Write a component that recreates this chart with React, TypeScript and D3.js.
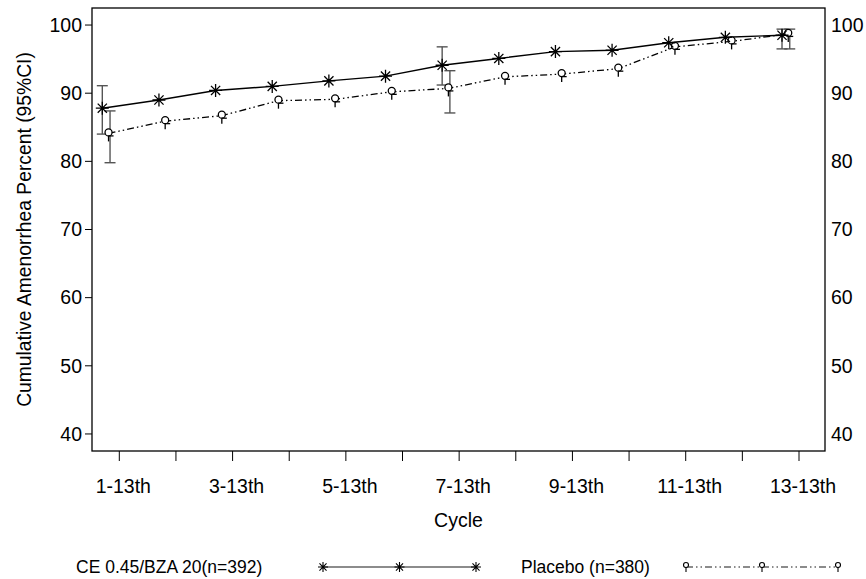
import * as d3 from "d3";

// cycle categories (only odd ones get a label)
const cycles = [
  "1-13th", "2-13th", "3-13th", "4-13th", "5-13th", "6-13th", "7-13th",
  "8-13th", "9-13th", "10-13th", "11-13th", "12-13th", "13-13th",
];
const ceValues = [87.8, 89.0, 90.4, 91.0, 91.8, 92.5, 94.1, 95.1, 96.1, 96.3, 97.4, 98.2, 98.5];
const placeboValues = [84.1, 85.9, 86.7, 88.9, 89.1, 90.2, 90.7, 92.4, 92.8, 93.6, 96.8, 97.6, 98.7];
// 95% CI, only drawn for 1st, 7th and 13th
const ceLower = [84.0, null, null, null, null, null, 91.2, null, null, null, null, null, 96.5];
const ceUpper = [91.1, null, null, null, null, null, 96.8, null, null, null, null, null, 99.4];
const placeboLower = [79.8, null, null, null, null, null, 87.1, null, null, null, null, null, 96.5];
const placeboUpper = [87.4, null, null, null, null, null, 93.3, null, null, null, null, null, 99.4];
const yTicks = [40, 50, 60, 70, 80, 90, 100];

const W = 866;
const H = 579;
const PLOT = { LEFT: 92, RIGHT: 825, TOP: 8, BOTTOM: 451 };
const FONT = "'Liberation Sans', Arial, sans-serif";

const x = d3.scalePoint<string>().domain(cycles).range([119.3, 799]);
const y = d3.scaleLinear().domain([37.5, 102.5]).range([PLOT.BOTTOM, PLOT.TOP]);
const step = x.step();
const ceDodge = -0.3 * step;
const plDodge = -0.19 * step;

const asterisk = (cx: number, cy: number, r = 6.5) => {
  const a = r * Math.SQRT1_2;
  return `M${cx - r},${cy}H${cx + r}M${cx},${cy - r}V${cy + r}` +
    `M${cx - a},${cy - a}L${cx + a},${cy + a}M${cx - a},${cy + a}L${cx + a},${cy - a}`;
};

const PlaceboMark = ({ cx, cy }: { cx: number; cy: number }) => (
  <g stroke="#000" strokeWidth={1.3} fill="none">
    <circle cx={cx} cy={cy - 1} r={3.5} fill="#fff" />
    <line x1={cx} x2={cx} y1={cy + 2.5} y2={cy + 8} />
    <line x1={cx} x2={cx + 5} y1={cy + 2.5} y2={cy + 2.5} />
  </g>
);

const ErrBar = ({ cx, lo, hi }: { cx: number; lo: number; hi: number }) => (
  <g stroke="#555" strokeWidth={1.4}>
    <line x1={cx} x2={cx} y1={y(lo)} y2={y(hi)} />
    <line x1={cx - 5.5} x2={cx + 5.5} y1={y(lo)} y2={y(lo)} />
    <line x1={cx - 5.5} x2={cx + 5.5} y1={y(hi)} y2={y(hi)} />
  </g>
);

const PLACEBO_DASH = "7,3,1.5,3,1.5,3";

export default function App() {
  const ceLine = d3.line<number>()
    .x((_, i) => x(cycles[i])! + ceDodge)
    .y((d) => y(d));
  const plLine = d3.line<number>()
    .x((_, i) => x(cycles[i])! + plDodge)
    .y((d) => y(d));

  const legendY = 567;

  return (
    <svg width={W} height={H} style={{ position: "absolute", left: 0, top: 0, background: "#fff" }}
      fontFamily={FONT}>
      <rect x={0} y={0} width={W} height={H} fill="#fff" />
      {/* frame */}
      <rect x={PLOT.LEFT} y={PLOT.TOP} width={PLOT.RIGHT - PLOT.LEFT} height={PLOT.BOTTOM - PLOT.TOP}
        fill="none" stroke="#000" strokeWidth={1.3} />

      {/* y axes */}
      {yTicks.map((t) => (
        <g key={t}>
          <line x1={PLOT.LEFT - 7} x2={PLOT.LEFT} y1={y(t)} y2={y(t)} stroke="#000" strokeWidth={1} />
          <text x={PLOT.LEFT - 10} y={y(t)} dy="0.35em" textAnchor="end" fontSize={19.5}>{t}</text>
          <text x={PLOT.RIGHT + 6} y={y(t)} dy="0.35em" textAnchor="start" fontSize={19.5}>{t}</text>
        </g>
      ))}

      {/* x axis */}
      {cycles.map((c, i) => (
        <g key={c}>
          <line x1={x(c)} x2={x(c)} y1={PLOT.BOTTOM} y2={PLOT.BOTTOM + 10} stroke="#000" strokeWidth={1} />
          {i % 2 === 0 && (
            <text x={x(c)! + 4} y={PLOT.BOTTOM + 42} textAnchor="middle" fontSize={19.5}>{c}</text>
          )}
        </g>
      ))}

      <text x={(PLOT.LEFT + PLOT.RIGHT) / 2} y={527} textAnchor="middle" fontSize={19.5}>Cycle</text>
      <text transform={`translate(31,${(PLOT.TOP + PLOT.BOTTOM) / 2}) rotate(-90)`} textAnchor="middle"
        fontSize={19.3}>Cumulative Amenorrhea Percent (95%CI)</text>

      {/* lines */}
      <path d={plLine(placeboValues)!} fill="none" stroke="#000" strokeWidth={1.3} strokeDasharray={PLACEBO_DASH} />
      <path d={ceLine(ceValues)!} fill="none" stroke="#000" strokeWidth={1.4} />

      {/* error bars */}
      {cycles.map((c, i) =>
        ceLower[i] != null ? (
          <ErrBar key={"ce" + c} cx={x(c)! + ceDodge} lo={ceLower[i]!} hi={ceUpper[i]!} />
        ) : null
      )}
      {cycles.map((c, i) =>
        placeboLower[i] != null ? (
          <ErrBar key={"pl" + c} cx={x(c)! + plDodge + 1.5} lo={placeboLower[i]!} hi={placeboUpper[i]!} />
        ) : null
      )}

      {/* markers */}
      {placeboValues.map((v, i) => (
        <PlaceboMark key={"pm" + i} cx={x(cycles[i])! + plDodge} cy={y(v)} />
      ))}
      {ceValues.map((v, i) => (
        <path key={"cm" + i} d={asterisk(x(cycles[i])! + ceDodge, y(v))} stroke="#000" strokeWidth={1.3} />
      ))}

      {/* legend */}
      <text x={76} y={legendY} dy="0.35em" fontSize={17.5}>CE 0.45/BZA 20(n=392)</text>
      <line x1={323} x2={476} y1={legendY} y2={legendY} stroke="#666" strokeWidth={1.6} />
      {[323, 399.5, 476].map((lx) => (
        <path key={"la" + lx} d={asterisk(lx, legendY, 5)} stroke="#000" strokeWidth={1.1} />
      ))}
      <text x={521} y={legendY} dy="0.35em" fontSize={17.5}>Placebo (n=380)</text>
      <line x1={686} x2={838} y1={legendY} y2={legendY} stroke="#666" strokeWidth={1.3} strokeDasharray={PLACEBO_DASH} />
      {[686, 762, 838].map((lx) => (
        <g key={"lp" + lx} stroke="#000" strokeWidth={1.1} fill="#fff">
          <circle cx={lx} cy={legendY - 2} r={2.5} />
          <line x1={lx} x2={lx} y1={legendY} y2={legendY + 5} />
        </g>
      ))}
    </svg>
  );
}
